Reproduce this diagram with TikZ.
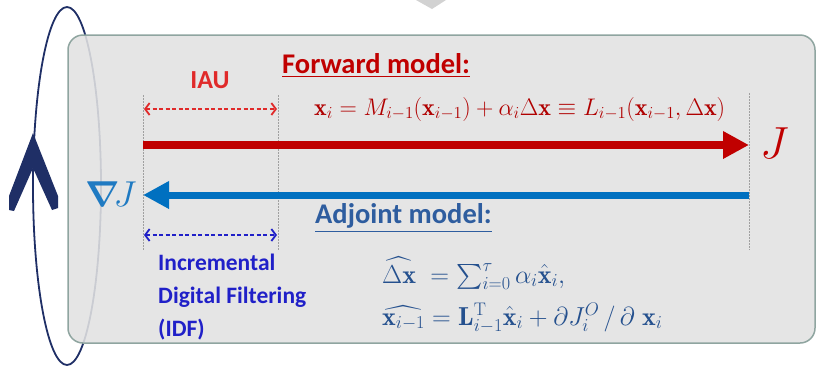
\RequirePackage{fix-cm}
\documentclass[tikz,border=0pt]{standalone}
\usepackage{amsmath,bm}
\usepackage{fontspec}
\newfontfamily\carl{Carlito}
\usetikzlibrary{arrows.meta}
\definecolor{navy}{HTML}{1F2F66}
\definecolor{boxfill}{HTML}{E2E2E2}
\definecolor{boxedge}{HTML}{8FA5A0}
\definecolor{fwdred}{HTML}{C00000}
\definecolor{eqred}{HTML}{B00000}
\definecolor{iaured}{HTML}{E02A2A}
\definecolor{adjblue}{HTML}{0070C0}
\definecolor{nablablue}{HTML}{1F7AC2}
\definecolor{idfblue}{HTML}{2020C8}
\definecolor{adjtext}{HTML}{2E5D9F}
\definecolor{eqblue}{HTML}{24508E}
\definecolor{dotgray}{HTML}{A0A0A0}
\tikzset{
  headtxt/.style={font=\carl\bfseries\fontsize{28.5}{32}\selectfont, inner sep=0pt},
  idftxt/.style={font=\carl\bfseries\fontsize{23.5}{28}\selectfont, text=idfblue, inner sep=0pt, anchor=base west},
  mathtxt/.style={font=\fontsize{24}{28}\selectfont, inner sep=0pt, anchor=base west},
  adjmath/.style={font=\fontsize{26}{30}\selectfont, inner sep=0pt, anchor=base west, text=eqblue},
  dotline/.style={draw=dotgray, line width=0.9pt, dash pattern=on 1.5pt off 1.5pt},
  dasharrow/.style={line width=1.4pt, dash pattern=on 4pt off 2.5pt, {Straight Barb[length=4.5pt,width=12pt,line width=1.8pt]}-{Straight Barb[length=4.5pt,width=12pt,line width=1.8pt]}},
  bigarrow/.style={line width=7.5pt, -{Triangle[length=26pt,width=26pt]}}
}
\begin{document}
\begin{tikzpicture}[x=1pt,y=-1pt]
\useasboundingbox (0,0) rectangle (817,368);
\fill[white] (0,0) rectangle (817,368);
% small grey triangle at top
\fill[gray!35] (416,0) -- (446,0) -- (432,9) -- cycle;
% loop ellipse
\draw[navy, line width=1.8pt] (67,186) ellipse [x radius=34, y radius=179];
% chevron on the loop
\fill[navy] (33,133) -- (58,196) -- (58,208) -- (52,210) -- (33,168) -- (14,211) -- (9,210) -- (9,196) -- cycle;
% box
\draw[rounded corners=15pt, fill=boxfill, fill opacity=0.88, draw=boxedge, line width=1.5pt] (68,35) rectangle (815,343);
% dotted verticals
\coordinate (d1t) at (143,95); \coordinate (d1b) at (143,250);
\coordinate (d2t) at (278,95); \coordinate (d2b) at (278,250);
\coordinate (d3t) at (749,93); \coordinate (d3b) at (749,250);
\draw[dotline] (d1t) -- (d1b);
\draw[dotline] (d2t) -- (d2b);
\draw[dotline] (d3t) -- (d3b);
% IAU
\node[headtxt, text=iaured, font=\carl\bfseries\fontsize{26}{30}\selectfont, anchor=base] (iau) at (210,88) {IAU};
\coordinate (iaul) at (144,109); \coordinate (iaur) at (277,109);
\draw[dasharrow, draw=iaured] (iaul) -- (iaur);
% Forward model
\node[headtxt, text=fwdred, anchor=base west] (fwd) at (282,73) {\underline{Forward model:}};
\node[mathtxt, text=eqred] (fwdeq) at (314,115)
  {$\mathbf{x}_i=M_{i-1}(\mathbf{x}_{i-1})+\alpha_i\Delta\mathbf{x}\equiv L_{i-1}(\mathbf{x}_{i-1},\Delta\mathbf{x})$};
% forward arrow
\coordinate (fs) at (143,145); \coordinate (fe) at (749,145);
\draw[bigarrow, draw=fwdred, fill=fwdred] (fs) -- (fe);
\node[text=fwdred, font=\fontsize{45}{50}\selectfont, inner sep=0pt, anchor=base west] (J) at (760,158) {$J$};
% adjoint arrow
\coordinate (as) at (749,195); \coordinate (ae) at (143,195);
\draw[bigarrow, line width=7pt, draw=adjblue, fill=adjblue] (as) -- (ae);
\node[text=nablablue, font=\fontsize{36}{40}\selectfont, inner sep=0pt, anchor=base west] (gradJ) at (85,206) {$\bm{\nabla}\!J$};
% IDF
\coordinate (idfl) at (144,235); \coordinate (idfr) at (277,235);
\draw[dasharrow, draw=idfblue] (idfl) -- (idfr);
\node[idftxt] (idf1) at (158,270) {Incremental};
\node[idftxt] (idf2) at (158,303) {Digital Filtering};
\node[idftxt] (idf3) at (158,336) {(IDF)};
% Adjoint model
\node[headtxt, text=adjtext, anchor=base west] (adj) at (315,223) {\underline{Adjoint model:}};
\node[adjmath] (adjeq1) at (382,283)
  {$\widehat{\Delta\mathbf{x}}\;=\textstyle\sum_{i=0}^{\tau}\alpha_i\hat{\mathbf{x}}_i,$};
\node[adjmath] (adjeq2) at (382,325)
  {$\widehat{\mathbf{x}_{i-1}}=\mathbf{L}_{i-1}^{\mathrm{T}}\hat{\mathbf{x}}_i+\partial J_i^{O}\,/\,\partial\;\mathbf{x}_i$};
\end{tikzpicture}
\end{document}
